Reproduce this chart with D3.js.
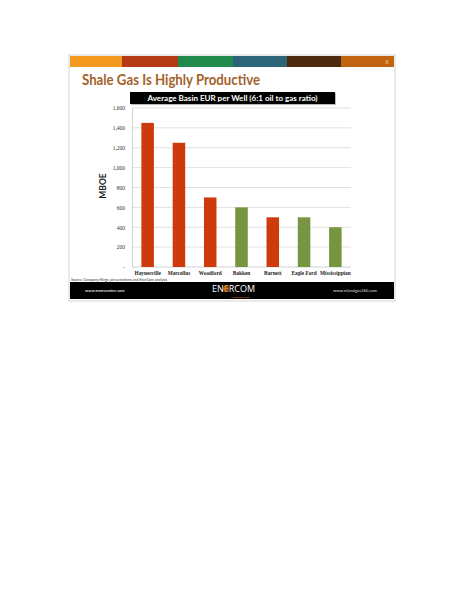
<!DOCTYPE html>
<html><head><meta charset="utf-8">
<script src="https://cdn.jsdelivr.net/npm/d3@7"></script>
<style>html,body{margin:0;padding:0;background:#fff;}svg{display:block;}</style>
</head><body>
<script>
const categories = ["Haynesville","Marcellus","Woodford","Bakken","Barnett","Eagle Ford","Mississippian"];
const values = [1450,1250,700,600,500,500,400];
const basinType = ["gas","gas","gas","oil","gas","oil","oil"];
const yTicks = [0,200,400,600,800,1000,1200,1400,1600];
const bandColors = ["#f39a1e","#b33a14","#1f8a4c","#2b6577","#4e2a0e","#c0640f"];
const chartTitle = "Average Basin EUR per Well (6:1 oil to gas ratio)";
const slideTitle = "Shale Gas Is Highly Productive";

const W=464,H=600;
const svg=d3.select("body").append("svg").attr("width",W).attr("height",H);

// slide frame
const sx=69, sy=55, sw=326, sh=246;
svg.append("rect").attr("x",sx).attr("y",sy).attr("width",sw).attr("height",sh)
  .attr("fill","#fff").attr("stroke","#c8c8c8").attr("stroke-width",0.8);

// colour bands
const bandEdges=[70,122,178,233,287,341,394];
svg.selectAll("rect.band").data(bandColors).join("rect").attr("class","band")
  .attr("x",(d,i)=>bandEdges[i]).attr("y",56).attr("width",(d,i)=>bandEdges[i+1]-bandEdges[i]).attr("height",11)
  .attr("fill",d=>d);
svg.append("text").attr("x",387).attr("y",64).attr("font-family","Lato, sans-serif").attr("font-size",5)
  .attr("fill","#f2c79a").attr("text-anchor","middle").text("8");

// slide title
svg.append("text").attr("x",82).attr("y",85).attr("font-family","Lato, 'Open Sans', sans-serif")
  .attr("font-weight","bold").attr("font-size",16).attr("fill","#a4622a")
  .attr("textLength",178).attr("lengthAdjust","spacingAndGlyphs").text(slideTitle);

// chart title box
svg.append("rect").attr("x",131).attr("y",93).attr("width",205).attr("height",12).attr("fill","#bbb");
svg.append("rect").attr("x",130).attr("y",92).attr("width",205).attr("height",12).attr("fill","#000");
svg.append("text").attr("x",232.5).attr("y",101).attr("text-anchor","middle")
  .attr("font-family","Lato, sans-serif").attr("font-weight","bold").attr("font-size",7.5)
  .attr("fill","#fff").attr("textLength",170).attr("lengthAdjust","spacingAndGlyphs").text(chartTitle);

// scales
const x=d3.scaleBand().domain(categories).range([132,351]).paddingInner(0.6).paddingOuter(0.3);
const y=d3.scaleLinear().domain([0,1600]).range([267,108]);

// gridlines
svg.append("g").selectAll("line").data(yTicks.filter(d=>d>0)).join("line")
  .attr("x1",132).attr("x2",351).attr("y1",d=>y(d)).attr("y2",d=>y(d))
  .attr("stroke","#d4d4d4").attr("stroke-width",0.7);

// y axis
const yAxis=d3.axisLeft(y).tickValues(yTicks).tickSize(0).tickPadding(7)
  .tickFormat(d=>d===0?"-":d3.format(",")(d));
const gy=svg.append("g").attr("transform","translate(132,0)").call(yAxis);
gy.select(".domain").attr("stroke","#bfbfbf").attr("stroke-width",0.7);
gy.selectAll("text").attr("font-family","'Liberation Serif', serif").attr("font-size",5.5).attr("fill","#333");

// x axis baseline
svg.append("line").attr("x1",132).attr("x2",351).attr("y1",y(0)).attr("y2",y(0))
  .attr("stroke","#bfbfbf").attr("stroke-width",0.7);

// bars
svg.append("g").selectAll("rect").data(categories).join("rect")
  .attr("x",d=>x(d)).attr("width",x.bandwidth())
  .attr("y",(d,i)=>y(values[i])).attr("height",(d,i)=>y(0)-y(values[i]))
  .attr("fill",(d,i)=>basinType[i]==="gas"?"#cf3a0c":"#779440");

// x labels
const xAxis=d3.axisBottom(x).tickSize(0).tickPadding(4);
const gx=svg.append("g").attr("transform",`translate(0,${y(0)})`).call(xAxis);
gx.select(".domain").remove();
gx.selectAll("text").attr("font-family","'Liberation Serif', serif").attr("font-weight","bold")
  .attr("font-size",5.3).attr("fill","#222");

// y label
svg.append("text").attr("transform","translate(106,186) rotate(-90)").attr("text-anchor","middle")
  .attr("font-family","Lato, sans-serif").attr("font-weight","bold").attr("font-size",8.5)
  .attr("fill","#222").text("MBOE");

// source
svg.append("text").attr("x",71).attr("y",280.5).attr("font-family","Lato, sans-serif").attr("font-size",3.6)
  .attr("fill","#333").text("Source: Company filings, presentations and EnerCom analysis");

// footer
svg.append("rect").attr("x",70).attr("y",282).attr("width",324).attr("height",17).attr("fill","#000");
svg.append("text").attr("x",85).attr("y",292).attr("font-family","Lato, sans-serif").attr("font-size",4)
  .attr("fill","#ddd").attr("font-weight","bold").text("www.enercominc.com");
svg.append("text").attr("x",333).attr("y",292).attr("font-family","Lato, sans-serif").attr("font-size",4.2)
  .attr("fill","#ddd").text("www.oilandgas360.com");
// logo
svg.append("circle").attr("cx",226).attr("cy",288.5).attr("r",3).attr("fill","#e8661a").attr("opacity",0.7);
const logo=svg.append("text").attr("x",212).attr("y",291.5).attr("font-family","'Open Sans', sans-serif")
  .attr("font-size",9).attr("fill","#fff");
logo.append("tspan").text("EN");
logo.append("tspan").attr("fill","#f39a1e").text("E");
logo.append("tspan").text("RCOM");
svg.append("text").attr("x",240).attr("y",297.6).attr("text-anchor","middle").attr("font-family","Lato, sans-serif")
  .attr("font-size",2.4).attr("fill","#f39a1e").text("INCORPORATED");
</script>
</body></html>
